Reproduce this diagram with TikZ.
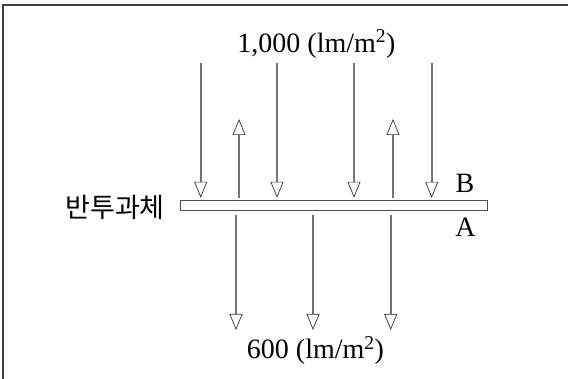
\documentclass[tikz,border=0pt]{standalone}
\usepackage{fontspec}
\setmainfont{Liberation Serif}
\newfontfamily\kofont{Noto Sans CJK KR}
\usetikzlibrary{arrows.meta,positioning}

\begin{document}
\begin{tikzpicture}[
  x=1pt, y=-1pt,
  frame/.style={draw=black!75, line width=1.2pt},
  slabbox/.style={draw=black!70, line width=0.8pt, fill=white,
    minimum width=307pt, minimum height=10pt, inner sep=0pt},
  ray/.style={draw=black!55, line width=2.2pt,
    -{Triangle[open, length=16pt, width=13pt, line width=0.7pt, color=black!80]}},
  lab/.style={font=\fontsize{28}{32}\selectfont, inner sep=0pt},
  kolab/.style={font=\kofont\fontsize{27}{30}\selectfont, inner sep=0pt}
]
\useasboundingbox (0,0) rectangle (568,379);
\draw[frame] (3,379) -- (3,5) -- (568,5);

\node[slabbox] (slab) at (333.5,205.7) {};
\node[kolab] (name) at (115,207) {반투과체};
\node[lab] (B) at (465,183) {B};
\node[lab] (A) at (465.5,227) {A};
\node[lab] (incident) at (316.5,44) {1,000 (lm/m\textsuperscript{2})};
\node[lab] (transmit) at (315.5,350.5) {600 (lm/m\textsuperscript{2})};

% incident light on side B
\foreach \x in {200.7,277,354,431.7}
  \draw[ray, shorten >=2.5pt] (\x,63) -- (\x,0 |- slab.north);
% reflected light
\foreach \x in {239,393}
  \draw[ray, shorten <=2.5pt] (\x,0 |- slab.north) -- (\x,119);
% transmitted light from side A
\foreach \x in {236,313,390.7}
  \draw[ray, shorten <=3.5pt] (\x,0 |- slab.south) -- (\x,330);
\end{tikzpicture}
\end{document}
